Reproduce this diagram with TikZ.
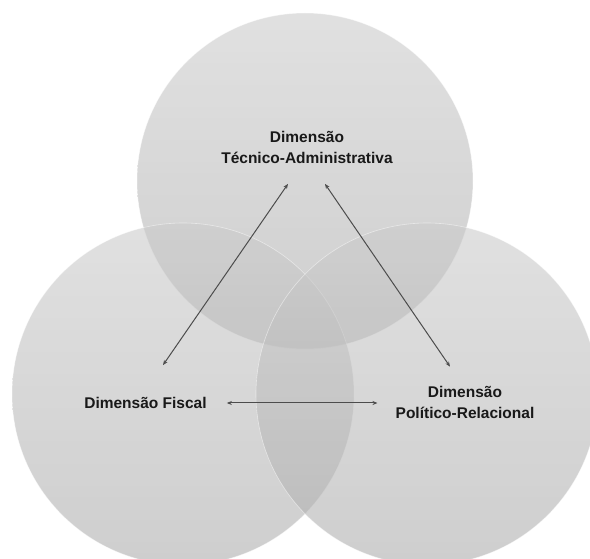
\documentclass[tikz,border=0pt]{standalone}
\usepackage{fontspec}
\setmainfont{Liberation Sans}
\usetikzlibrary{arrows.meta}

\begin{document}
\begin{tikzpicture}[x=10pt, y=10pt,
    circ/.style={top color=black!20, bottom color=black!32, fill opacity=0.6, draw=white, draw opacity=0.5, line width=0.6pt},
    dim/.style={font=\fontsize{15.5}{21}\selectfont\bfseries, text=black!90, align=center, inner sep=2pt},
    link/.style={{Stealth[length=5pt,width=4pt]}-{Stealth[length=5pt,width=4pt]}, black!70, line width=1pt}]
    \useasboundingbox (0,0) rectangle (59,55.8);
    \clip (0,0) rectangle (59,55.8);

    % Three overlapping dimensions
    \draw[circ] (30.5,37.7) circle (16.8);
    \draw[circ] (18.3,16.4) circle (17.1);
    \draw[circ] (42.7,16.4) circle (17.1);

    % Labels
    \node[dim] (tec) at (30.7,41.05) {Dimensão\\Técnico-Administrativa};
    \node[dim] (fiscal) at (14.55,15.5) {Dimensão Fiscal};
    \node[dim] (pol) at (46.5,15.55) {Dimensão\\Político-Relacional};

    % Relations between the dimensions
    \draw[link] ([xshift=-19pt, yshift=-18pt]tec.south) -- ([xshift=17.5pt, yshift=30pt]fiscal.north);
    \draw[link] ([xshift=18pt, yshift=-18pt]tec.south) -- ([xshift=-15pt, yshift=17.5pt]pol.north);
    \draw[link, shorten <=18pt, shorten >=16pt] (fiscal.east) -- (fiscal.east -| pol.west);
\end{tikzpicture}
\end{document}
